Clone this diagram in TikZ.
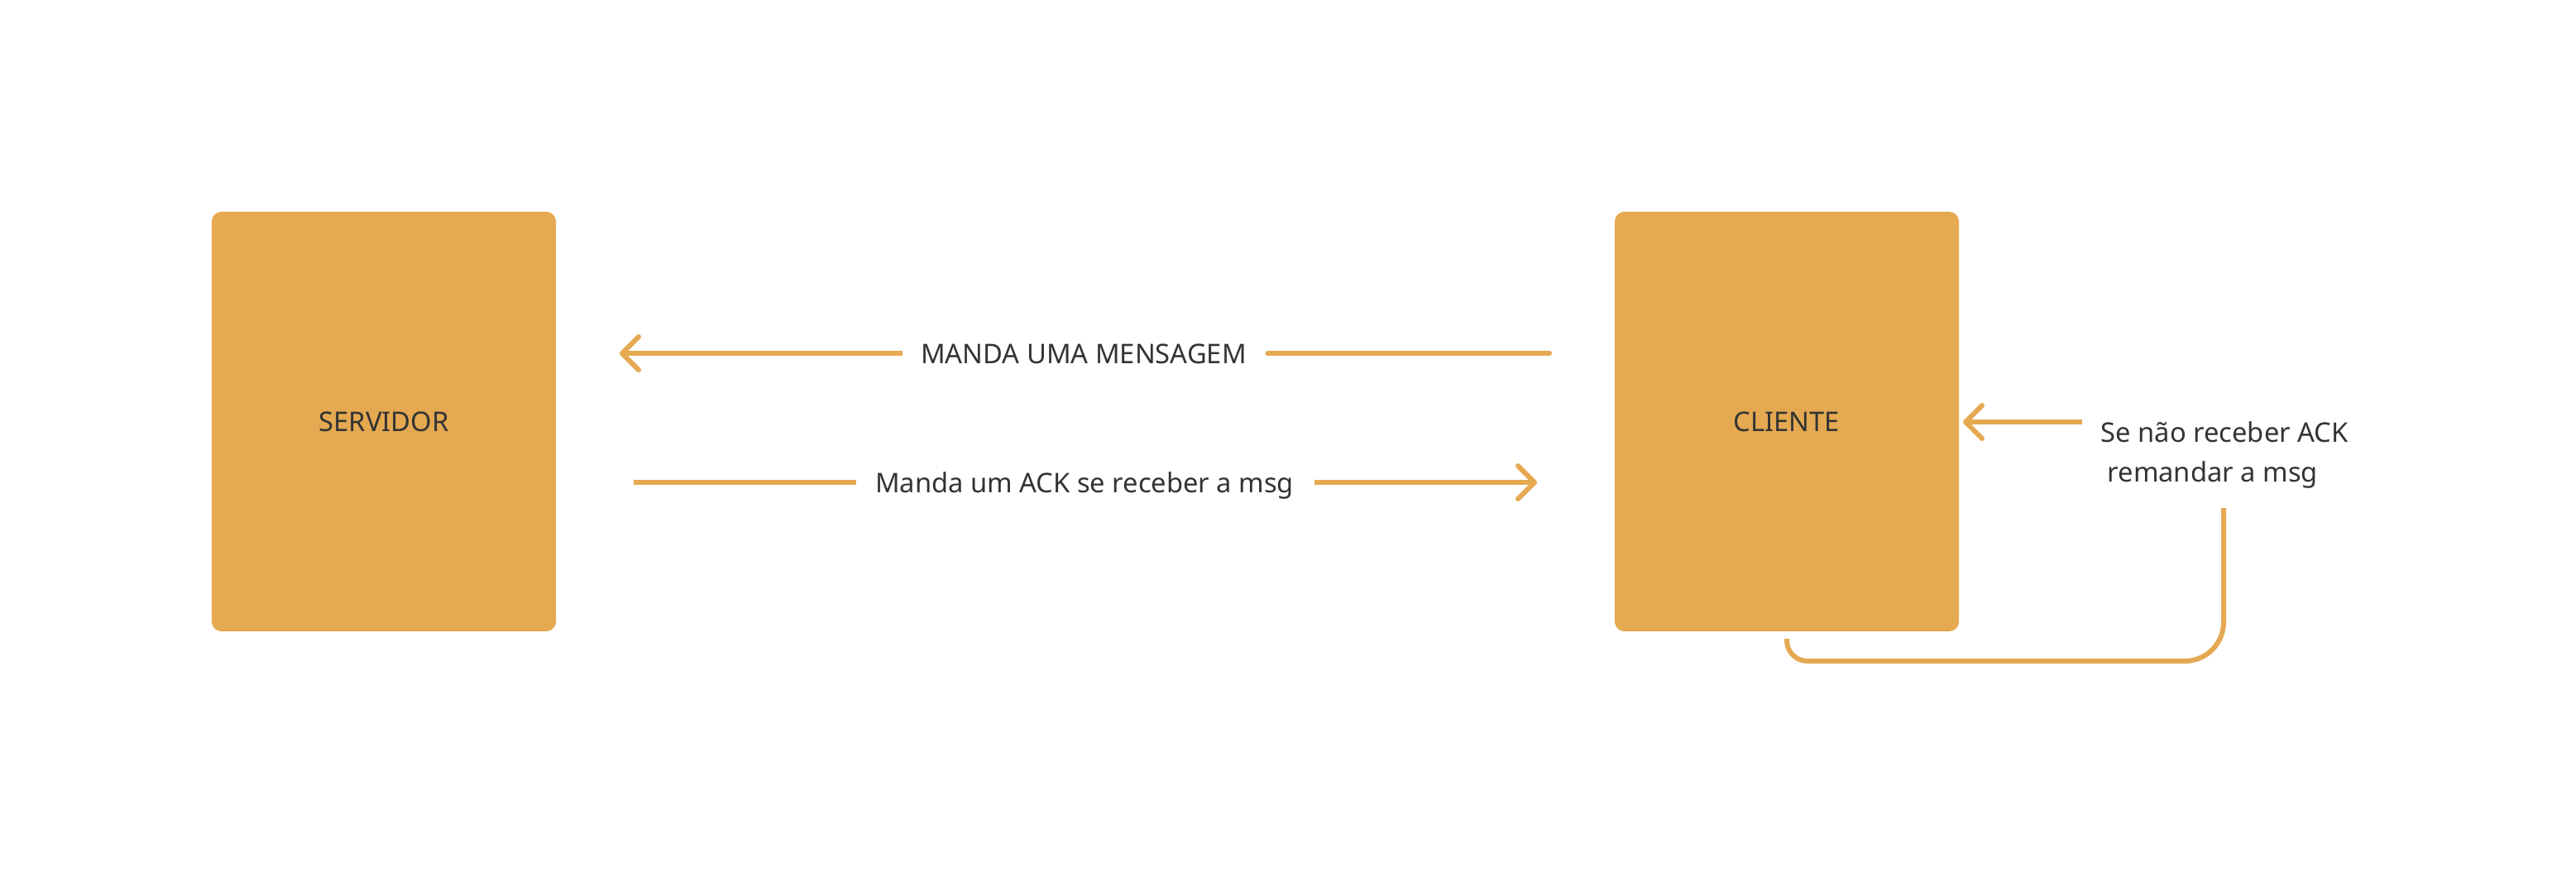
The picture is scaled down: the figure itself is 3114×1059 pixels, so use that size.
\documentclass[tikz,border=0pt]{standalone}
\usepackage{fontspec}
\setmainfont{Noto Sans}
\usetikzlibrary{arrows.meta}
\definecolor{boxfill}{HTML}{E4A951}
\definecolor{linecol}{HTML}{E5A952}
\definecolor{txt}{HTML}{333333}
\tikzset{
  box/.style={draw=none, fill=boxfill, rounded corners=0.12cm, minimum width=4.16cm, minimum height=5.07cm, inner sep=0pt, text=txt, font=\fontsize{9.3pt}{13.6pt}\selectfont},
  lbl/.style={text=txt, font=\fontsize{9.3pt}{13.6pt}\selectfont, inner sep=0pt, anchor=base},
  conn/.style={draw=linecol, line width=0.06cm},
  tip/.style={-{Straight Barb[length=0.2cm, width=0.4cm, line cap=round, line join=round]}}
}
\begin{document}
\begin{tikzpicture}[x=0.01cm, y=-0.01cm]
\useasboundingbox (0,0) rectangle (3114,1059);
% boxes
\node[box] (srv) at (464,509.5) {SERVIDOR};
\node[box] (cli) at (2160,509.5) {CLIENTE};
% labels
\node[lbl] (t1) at (1310,439) {MANDA UMA MENSAGEM};
\node[lbl] (t2) at (1311,595) {Manda um ACK se receber a msg};
\node[lbl, anchor=base west, align=left] (t3) at (2539,582) {Se não receber ACK\\\hspace*{0.08cm}remandar a msg};
% free ends
\coordinate (a1s) at (1873,427);
\coordinate (a1e) at (749,427);
\coordinate (a2s) at (766,583);
\coordinate (a2e) at (1858,583);
\coordinate (a3s) at (2517,510);
\coordinate (a3e) at (2373,510);
\coordinate (l4s) at (2688,614);
\coordinate (l4e) at (2160,772);
% connectors
\draw[conn, line cap=round] (a1s) -- ([xshift=0.25cm]t1.east |- a1s);
\draw[conn, tip] ([xshift=-0.22cm]t1.west |- a1e) -- (a1e);
\draw[conn] (a2s) -- ([xshift=-0.22cm]t2.west |- a2s);
\draw[conn, tip] ([xshift=0.24cm]t2.east |- a2e) -- (a2e);
\draw[conn, tip] (a3s) -- (a3e);
\draw[conn] (l4s) -- (2688,752) arc[start angle=0, end angle=-90, radius=0.47cm]
  -- (2185,799) arc[start angle=-90, end angle=-180, radius=0.25cm] -- (l4e);
\end{tikzpicture}
\end{document}
